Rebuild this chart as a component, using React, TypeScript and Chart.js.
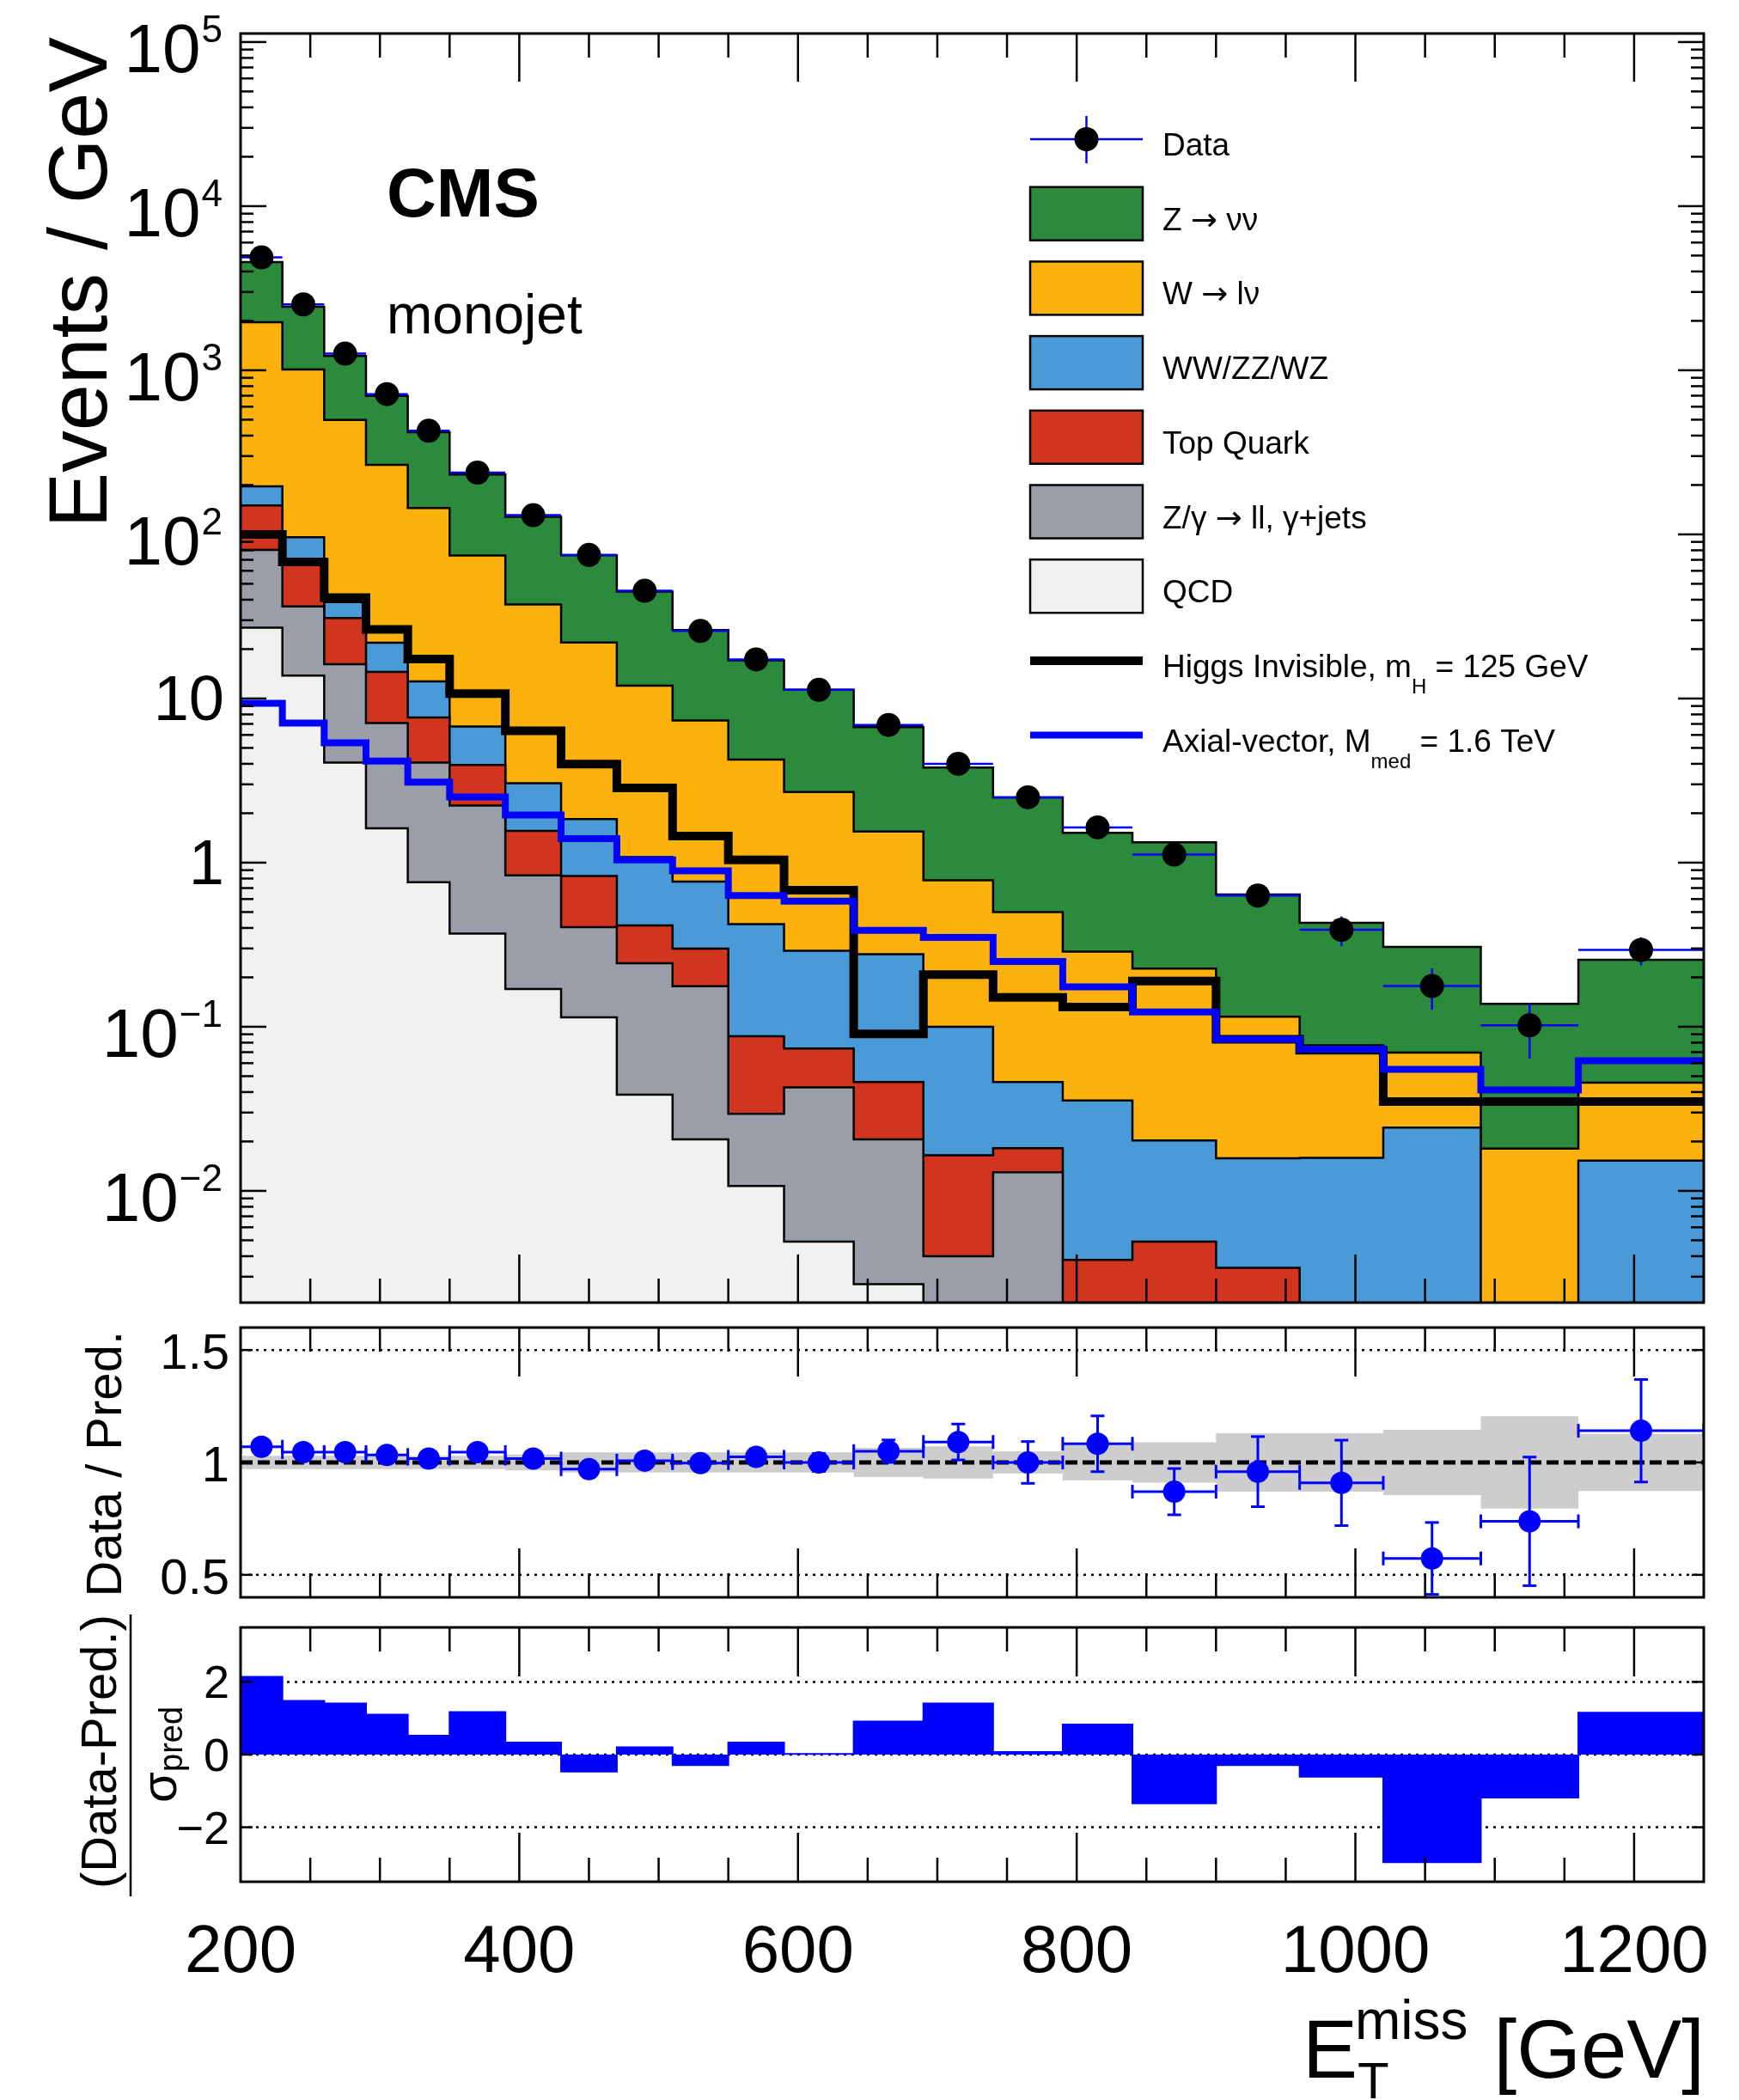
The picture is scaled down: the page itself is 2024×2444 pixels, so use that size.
import React, { useEffect, useRef } from 'react';
import { Chart, registerables } from 'chart.js';

Chart.register(...registerables);

// ---------------- data ----------------
const binEdges = [200, 230, 260, 290, 320, 350, 390, 430, 470, 510, 550, 590, 640, 690, 740, 790, 840, 900, 960, 1020, 1090, 1160, 1250];

// background components (events / GeV), stacked bottom -> top
const qcd = [27, 13.8, 4.07, 1.62, 0.76, 0.37, 0.17, 0.114, 0.0386, 0.0206, 0.0107, 0.0049, 0.0027, 0, 0, 0, 0, 0, 0, 0, 0, 0];
const zGammaJets = [53.5, 22.6, 12.1, 5.46, 3.31, 1.86, 0.666, 0.291, 0.205, 0.156, 0.0188, 0.0378, 0.0179, 0.004, 0.013, 0, 0, 0, 0, 0, 0, 0];
const topQuark = [69.5, 34.6, 14.8, 7.42, 3.59, 1.71, 0.724, 0.425, 0.171, 0.123, 0.058, 0.0309, 0.0254, 0.0125, 0.0052, 0.0038, 0.0049, 0.0034, 0, 0, 0, 0];
const diboson = [46, 25, 7.7, 7.4, 5.04, 2.82, 1.49, 1.01, 0.665, 0.467, 0.334, 0.217, 0.231, 0.0835, 0.0278, 0.0317, 0.0154, 0.0124, 0.0159, 0.0243, 0, 0.0153];
const wLNu = [1768, 915, 459, 243, 132, 67.7, 34.3, 20.1, 10.9, 6.58, 3.83, 2.4, 1.27, 0.68, 0.454, 0.2515, 0.2057, 0.0992, 0.0611, 0.0454, 0.0181, 0.0304];
const zNuNu = [2596, 1426, 725, 434, 275, 157.5, 90.7, 52.6, 32.8, 18.75, 12.85, 8.61, 5.15, 3.02, 2.0, 1.233, 1.104, 0.525, 0.353, 0.2373, 0.1199, 0.2103];

const dataValues = [4870, 2520, 1262, 716, 428, 238, 131, 75, 45.3, 25.8, 17.3, 11.3, 6.9, 4.0, 2.5, 1.64, 1.12, 0.63, 0.39, 0.177, 0.102, 0.294];
const dataErrors = [13, 9, 6.5, 4.9, 3.8, 2.4, 1.8, 1.4, 1.06, 0.8, 0.66, 0.48, 0.37, 0.28, 0.22, 0.18, 0.14, 0.1, 0.08, 0.05, 0.038, 0.057];

const higgsInvisible = [100, 68, 41.2, 26.4, 17.4, 10.7, 6.35, 3.98, 2.85, 1.45, 1.04, 0.68, 0.0905, 0.208, 0.151, 0.132, 0.19, 0.084, 0.072, 0.035, 0.035, 0.035];
const axialVector = [9.34, 7.08, 5.37, 4.16, 3.09, 2.51, 1.95, 1.4, 1.04, 0.89, 0.63, 0.583, 0.387, 0.35, 0.25, 0.175, 0.123, 0.084, 0.073, 0.055, 0.0412, 0.062];

const ratioValues = [1.07, 1.046, 1.046, 1.033, 1.017, 1.046, 1.017, 0.97, 1.008, 0.997, 1.025, 1.0, 1.05, 1.091, 1.0, 1.083, 0.87, 0.959, 0.909, 0.573, 0.738, 1.141];
const ratioErrors = [0.01, 0.01, 0.012, 0.013, 0.015, 0.016, 0.018, 0.02, 0.025, 0.03, 0.035, 0.04, 0.05, 0.08, 0.093, 0.124, 0.103, 0.156, 0.19, 0.16, 0.286, 0.228];
const predUncertainty = [0.03, 0.03, 0.03, 0.03, 0.03, 0.03, 0.035, 0.045, 0.045, 0.045, 0.045, 0.045, 0.065, 0.072, 0.05, 0.08, 0.09, 0.13, 0.13, 0.145, 0.205, 0.127];

const pullValues = [2.14, 1.48, 1.41, 1.1, 0.52, 1.17, 0.33, -0.47, 0.2, -0.29, 0.33, 0.02, 0.91, 1.41, 0.07, 0.83, -1.34, -0.29, -0.61, -2.96, -1.18, 1.15];

// tick labels
const mainYTickValues = [1e5, 1e4, 1e3, 1e2, 10, 1, 0.1, 0.01];
const mainYTickBase = ['10', '10', '10', '10', '10', '1', '10', '10'];
const mainYTickExp = ['5', '4', '3', '2', '', '', '\u22121', '\u22122'];
const xTickValues = [200, 400, 600, 800, 1000, 1200];
const xTickLabels = ['200', '400', '600', '800', '1000', '1200'];
const ratioTickValues = [0.5, 1, 1.5];
const ratioTickLabels = ['0.5', '1', '1.5'];
const pullTickValues = [-2, 0, 2];
const pullTickLabels = ['\u22122', '0', '2'];

const seriesNames = ['QCD', 'Z/\u03b3 \u2192 ll, \u03b3+jets', 'Top Quark', 'WW/ZZ/WZ', 'W \u2192 l\u03bd', 'Z \u2192 \u03bd\u03bd'];

// ---------------- style ----------------
const FONT = '"Liberation Sans", Arial, Helvetica, sans-serif';
const ARROW_FONT = '"DejaVu Sans", sans-serif';
const COLORS = {
  qcd: '#f1f1f1',
  zgamma: '#9a9ea9',
  top: '#d2351f',
  diboson: '#4a9ad8',
  wlnu: '#fcb10c',
  znunu: '#2b8a3c',
  band: '#cdcdcd',
  blue: '#0000ff',
};
const X_MINOR_STEP = 50;
const MAIN_H = 1530;
const RATIO_TOP = 1530;
const RATIO_H = 342;
const PULL_TOP = 1872;
const PULL_H = 572;

// ---------------- helpers ----------------
function histPoints(values: number[], floor = -Infinity) {
  const pts: { x: number; y: number }[] = [];
  for (let i = 0; i < values.length; i++) {
    const v = Math.max(values[i], floor);
    pts.push({ x: binEdges[i], y: v });
    pts.push({ x: binEdges[i + 1], y: v });
  }
  return pts;
}
const binCenters = binEdges.slice(0, -1).map((e, i) => (e + binEdges[i + 1]) / 2);

function seg(ctx: CanvasRenderingContext2D, x1: number, y1: number, x2: number, y2: number) {
  ctx.beginPath();
  ctx.moveTo(x1, y1);
  ctx.lineTo(x2, y2);
  ctx.stroke();
}

function rotText(ctx: CanvasRenderingContext2D, text: string, x: number, y: number, font: string, align: CanvasTextAlign) {
  ctx.save();
  ctx.translate(x, y);
  ctx.rotate(-Math.PI / 2);
  ctx.font = font;
  ctx.textAlign = align;
  ctx.textBaseline = 'alphabetic';
  ctx.fillStyle = '#000';
  ctx.fillText(text, 0, 0);
  ctx.restore();
}

function drawFrameAndXTicks(chart: any, majorLen: number, minorLen: number) {
  const ctx: CanvasRenderingContext2D = chart.ctx;
  const a = chart.chartArea;
  const xs = chart.scales.x;
  ctx.save();
  ctx.strokeStyle = '#000';
  ctx.lineWidth = 2.5;
  for (let v = xs.min + X_MINOR_STEP; v < xs.max; v += X_MINOR_STEP) {
    const px = xs.getPixelForValue(v);
    const len = xTickValues.includes(v) ? majorLen : minorLen;
    seg(ctx, px, a.top, px, a.top + len);
    seg(ctx, px, a.bottom, px, a.bottom - len);
  }
  ctx.lineWidth = 3;
  ctx.strokeRect(a.left, a.top, a.right - a.left, a.bottom - a.top);
  ctx.restore();
}

function drawHLineAt(chart: any, value: number, dash: number[], width: number) {
  const ctx: CanvasRenderingContext2D = chart.ctx;
  const a = chart.chartArea;
  const py = chart.scales.y.getPixelForValue(value);
  ctx.save();
  ctx.strokeStyle = '#000';
  ctx.lineWidth = width;
  ctx.setLineDash(dash);
  seg(ctx, a.left, py, a.right, py);
  ctx.restore();
}

function drawYTicksLinear(chart: any, values: number[], labels: string[], fontSize: number, baseOff: number) {
  const ctx: CanvasRenderingContext2D = chart.ctx;
  const a = chart.chartArea;
  const ys = chart.scales.y;
  ctx.save();
  ctx.strokeStyle = '#000';
  ctx.lineWidth = 2.5;
  ctx.fillStyle = '#000';
  ctx.font = `${fontSize}px ${FONT}`;
  ctx.textAlign = 'right';
  ctx.textBaseline = 'alphabetic';
  values.forEach((v, i) => {
    const py = ys.getPixelForValue(v);
    seg(ctx, a.left, py, a.left + 14, py);
    seg(ctx, a.right, py, a.right - 14, py);
    ctx.fillText(labels[i], 267, py + baseOff);
  });
  ctx.restore();
}

type Part = { t: string; sub?: boolean };
// draws text pieces left to right; subscripts smaller and lower, arrows with a font that has a full-size arrow
function drawRich(ctx: CanvasRenderingContext2D, parts: Part[], x: number, y: number, size: number) {
  let cx = x;
  for (const p of parts) {
    const fs = p.sub ? 24 : size;
    const yy = p.sub ? y + 19 : y;
    const pieces = p.t.split('\u2192');
    pieces.forEach((piece, k) => {
      if (k > 0) {
        ctx.font = `${fs}px ${ARROW_FONT}`;
        ctx.fillText('\u2192', cx, yy);
        cx += ctx.measureText('\u2192').width;
      }
      ctx.font = `${fs}px ${FONT}`;
      ctx.fillText(piece, cx, yy);
      cx += ctx.measureText(piece).width;
    });
  }
}

const legendEntries: { kind: string; color?: string; width?: number; parts: Part[] }[] = [
  { kind: 'data', parts: [{ t: 'Data' }] },
  { kind: 'box', color: COLORS.znunu, parts: [{ t: seriesNames[5] }] },
  { kind: 'box', color: COLORS.wlnu, parts: [{ t: seriesNames[4] }] },
  { kind: 'box', color: COLORS.diboson, parts: [{ t: seriesNames[3] }] },
  { kind: 'box', color: COLORS.top, parts: [{ t: seriesNames[2] }] },
  { kind: 'box', color: COLORS.zgamma, parts: [{ t: seriesNames[1] }] },
  { kind: 'box', color: COLORS.qcd, parts: [{ t: seriesNames[0] }] },
  { kind: 'line', color: '#000', width: 10, parts: [{ t: 'Higgs Invisible, m' }, { t: 'H', sub: true }, { t: ' = 125 GeV' }] },
  { kind: 'line', color: COLORS.blue, width: 8, parts: [{ t: 'Axial-vector, M' }, { t: 'med', sub: true }, { t: ' = 1.6 TeV' }] },
];

// ---------------- main panel ----------------
const DATA_INDEX = 8;

const mainPlugin = {
  id: 'mainDecor',
  beforeDatasetDraw(chart: any, args: any) {
    if (args.index !== DATA_INDEX) return;
    const ctx: CanvasRenderingContext2D = chart.ctx;
    const a = chart.chartArea;
    const xs = chart.scales.x;
    const ys = chart.scales.y;
    ctx.save();
    ctx.beginPath();
    ctx.rect(a.left, a.top, a.right - a.left, a.bottom - a.top);
    ctx.clip();
    ctx.strokeStyle = COLORS.blue;
    ctx.lineWidth = 2.5;
    dataValues.forEach((v, i) => {
      const py = ys.getPixelForValue(v);
      seg(ctx, xs.getPixelForValue(binEdges[i]), py, xs.getPixelForValue(binEdges[i + 1]), py);
      const px = xs.getPixelForValue(binCenters[i]);
      seg(ctx, px, ys.getPixelForValue(v + dataErrors[i]), px, ys.getPixelForValue(Math.max(v - dataErrors[i], 1e-6)));
    });
    ctx.restore();
  },
  afterDraw(chart: any) {
    const ctx: CanvasRenderingContext2D = chart.ctx;
    const a = chart.chartArea;
    const ys = chart.scales.y;
    drawFrameAndXTicks(chart, 56, 28);

    // log y ticks
    ctx.save();
    ctx.strokeStyle = '#000';
    ctx.lineWidth = 2.5;
    for (let k = -3; k <= 5; k++) {
      for (let m = 1; m <= 9; m++) {
        const v = m * Math.pow(10, k);
        if (v < ys.min || v > ys.max) continue;
        const py = ys.getPixelForValue(v);
        const len = m === 1 ? 30 : 15;
        seg(ctx, a.left, py, a.left + len, py);
        seg(ctx, a.right, py, a.right - len, py);
      }
    }
    // y labels
    ctx.fillStyle = '#000';
    ctx.textAlign = 'right';
    ctx.textBaseline = 'alphabetic';
    mainYTickValues.forEach((v, i) => {
      const py = ys.getPixelForValue(v);
      const exp = mainYTickExp[i];
      if (exp) {
        ctx.font = `44px ${FONT}`;
        ctx.fillText(exp, 259, py);
        const w = ctx.measureText(exp).width;
        ctx.font = `80px ${FONT}`;
        ctx.fillText(mainYTickBase[i], 259 - w - 1, py + 35);
      } else {
        ctx.font = `74px ${FONT}`;
        ctx.fillText(mainYTickBase[i], 261, py + 25);
      }
    });

    // axis title
    rotText(ctx, 'Events / GeV', 124, 43, `97px ${FONT}`, 'right');

    // CMS labels
    ctx.textAlign = 'left';
    ctx.fillStyle = '#000';
    ctx.font = `bold 80px ${FONT}`;
    ctx.fillText('CMS', 450, 252);
    ctx.font = `64px ${FONT}`;
    ctx.fillText('monojet', 450, 388);

    // legend
    const x0 = 1199;
    const x1 = 1330;
    const textX = 1353;
    legendEntries.forEach((e, i) => {
      const cy = 162 + i * 86.7;
      if (e.kind === 'data') {
        ctx.strokeStyle = COLORS.blue;
        ctx.lineWidth = 2.5;
        seg(ctx, x0, cy, x1, cy);
        seg(ctx, (x0 + x1) / 2, cy - 27, (x0 + x1) / 2, cy + 28);
        ctx.fillStyle = '#000';
        ctx.beginPath();
        ctx.arc((x0 + x1) / 2, cy, 14, 0, Math.PI * 2);
        ctx.fill();
      } else if (e.kind === 'box') {
        ctx.fillStyle = e.color!;
        ctx.fillRect(x0, cy - 31, x1 - x0, 62);
        ctx.strokeStyle = '#000';
        ctx.lineWidth = 2.5;
        ctx.strokeRect(x0, cy - 31, x1 - x0, 62);
      } else {
        ctx.strokeStyle = e.color!;
        ctx.lineWidth = e.width!;
        seg(ctx, x0, cy, x1, cy);
      }
      ctx.fillStyle = '#000';
      ctx.textAlign = 'left';
      drawRich(ctx, e.parts, textX, cy + 19, 37);
    });
    ctx.restore();
  },
};

function mainConfig(): any {
  const stackDefs = [
    { vals: qcd, color: COLORS.qcd },
    { vals: zGammaJets, color: COLORS.zgamma },
    { vals: topQuark, color: COLORS.top },
    { vals: diboson, color: COLORS.diboson },
    { vals: wLNu, color: COLORS.wlnu },
    { vals: zNuNu, color: COLORS.znunu },
  ];
  let running = new Array(qcd.length).fill(0);
  const stackSets = stackDefs.map((s, i) => {
    running = running.map((r, j) => r + s.vals[j]);
    return {
      label: seriesNames[i],
      data: histPoints(running, 1e-4),
      backgroundColor: s.color,
      borderColor: '#000',
      borderWidth: 2.5,
      borderJoinStyle: 'miter',
      fill: i === 0 ? 'start' : '-1',
      pointRadius: 0,
      tension: 0,
      order: 3,
    };
  });
  return {
    type: 'line',
    data: {
      datasets: [
        ...stackSets,
        {
          label: 'Higgs Invisible',
          data: histPoints(higgsInvisible),
          borderColor: '#000',
          borderWidth: 10,
          borderJoinStyle: 'miter',
          fill: false,
          pointRadius: 0,
          tension: 0,
          order: 2,
        },
        {
          label: 'Axial-vector',
          data: histPoints(axialVector),
          borderColor: COLORS.blue,
          borderWidth: 8,
          borderJoinStyle: 'miter',
          fill: false,
          pointRadius: 0,
          tension: 0,
          order: 1,
        },
        {
          label: 'Data',
          data: dataValues.map((v, i) => ({ x: binCenters[i], y: v })),
          showLine: false,
          pointRadius: 14,
          pointBackgroundColor: '#000',
          pointBorderColor: '#000',
          pointBorderWidth: 0,
          order: 0,
        },
      ],
    },
    options: {
      animation: false,
      responsive: false,
      devicePixelRatio: 1,
      events: [],
      layout: { padding: { left: 280, right: 41, top: 39, bottom: 14 } },
      plugins: { legend: { display: false }, tooltip: { enabled: false } },
      scales: {
        x: { type: 'linear', min: 200, max: 1250, display: false },
        y: { type: 'logarithmic', min: 0.002085, max: 1.127e5, display: false },
      },
    },
    plugins: [mainPlugin],
  };
}

// ---------------- ratio panel ----------------
const ratioPlugin = {
  id: 'ratioDecor',
  beforeDatasetsDraw(chart: any) {
    drawHLineAt(chart, 1.5, [3, 6], 2.5);
    drawHLineAt(chart, 0.5, [3, 6], 2.5);
  },
  beforeDatasetDraw(chart: any, args: any) {
    if (args.index !== 2) return;
    drawHLineAt(chart, 1, [14, 6], 5);
    const ctx: CanvasRenderingContext2D = chart.ctx;
    const a = chart.chartArea;
    const xs = chart.scales.x;
    const ys = chart.scales.y;
    ctx.save();
    ctx.beginPath();
    ctx.rect(a.left, a.top, a.right - a.left, a.bottom - a.top);
    ctx.clip();
    ctx.strokeStyle = COLORS.blue;
    ctx.lineWidth = 3;
    ratioValues.forEach((v, i) => {
      const py = ys.getPixelForValue(v);
      const xl = xs.getPixelForValue(binEdges[i]);
      const xr = xs.getPixelForValue(binEdges[i + 1]);
      const px = xs.getPixelForValue(binCenters[i]);
      seg(ctx, xl, py, xr, py);
      seg(ctx, xl, py - 8, xl, py + 8);
      seg(ctx, xr, py - 8, xr, py + 8);
      const yt = ys.getPixelForValue(v + ratioErrors[i]);
      const yb = ys.getPixelForValue(v - ratioErrors[i]);
      seg(ctx, px, yt, px, yb);
      seg(ctx, px - 8, yt, px + 8, yt);
      seg(ctx, px - 8, yb, px + 8, yb);
    });
    ctx.restore();
  },
  afterDraw(chart: any) {
    const ctx: CanvasRenderingContext2D = chart.ctx;
    drawFrameAndXTicks(chart, 57, 28);
    drawYTicksLinear(chart, ratioTickValues, ratioTickLabels, 58, 22);
    rotText(ctx, 'Data / Pred.', 141, 1549 - RATIO_TOP, `58px ${FONT}`, 'right');
  },
};

function ratioConfig(): any {
  return {
    type: 'line',
    data: {
      datasets: [
        {
          label: 'band low',
          data: histPoints(predUncertainty.map((e) => 1 - e)),
          borderColor: 'rgba(0,0,0,0)',
          borderWidth: 1,
          fill: false,
          pointRadius: 0,
          tension: 0,
          order: 2,
        },
        {
          label: 'band high',
          data: histPoints(predUncertainty.map((e) => 1 + e)),
          borderColor: 'rgba(0,0,0,0)',
          backgroundColor: COLORS.band,
          borderWidth: 1,
          fill: '-1',
          pointRadius: 0,
          tension: 0,
          order: 2,
        },
        {
          label: 'Data / Pred.',
          data: ratioValues.map((v, i) => ({ x: binCenters[i], y: v })),
          showLine: false,
          pointRadius: 13,
          pointBackgroundColor: COLORS.blue,
          pointBorderColor: COLORS.blue,
          pointBorderWidth: 0,
          order: 0,
        },
      ],
    },
    options: {
      animation: false,
      responsive: false,
      devicePixelRatio: 1,
      events: [],
      layout: { padding: { left: 280, right: 41, top: 15, bottom: 2 } },
      plugins: { legend: { display: false }, tooltip: { enabled: false } },
      scales: {
        x: { type: 'linear', min: 200, max: 1250, display: false },
        y: { type: 'linear', min: 0.4, max: 1.6, display: false },
      },
    },
    plugins: [ratioPlugin],
  };
}

// ---------------- pull panel ----------------
const pullPlugin = {
  id: 'pullDecor',
  beforeDatasetsDraw(chart: any) {
    pullTickValues.forEach((v) => drawHLineAt(chart, v, [3, 6], 2.5));
  },
  afterDraw(chart: any) {
    const ctx: CanvasRenderingContext2D = chart.ctx;
    const xs = chart.scales.x;
    drawFrameAndXTicks(chart, 57, 28);
    drawYTicksLinear(chart, pullTickValues, pullTickLabels, 54, 19);
    ctx.save();
    ctx.fillStyle = '#000';
    // x tick labels
    ctx.font = `78px ${FONT}`;
    ctx.textAlign = 'center';
    ctx.textBaseline = 'alphabetic';
    xTickValues.forEach((v, i) => {
      ctx.fillText(xTickLabels[i], xs.getPixelForValue(v), 2295 - PULL_TOP);
    });
    // x title
    ctx.textAlign = 'left';
    ctx.font = `96px ${FONT}`;
    ctx.fillText('E', 1516, 2418 - PULL_TOP);
    ctx.font = `60px ${FONT}`;
    ctx.fillText('T', 1580, 2442 - PULL_TOP);
    ctx.font = `64px ${FONT}`;
    ctx.fillText('miss', 1577, 2373 - PULL_TOP);
    ctx.font = `96px ${FONT}`;
    ctx.textAlign = 'right';
    ctx.fillText('[GeV]', 1984, 2418 - PULL_TOP);
    // y title (fraction)
    rotText(ctx, '(Data-Pred.)', 135, 1879 - PULL_TOP, `58px ${FONT}`, 'right');
    ctx.strokeStyle = '#000';
    ctx.lineWidth = 2.5;
    seg(ctx, 152, 1879 - PULL_TOP, 152, 2207 - PULL_TOP);
    rotText(ctx, '\u03c3', 205, 2098 - PULL_TOP, `58px ${FONT}`, 'left');
    rotText(ctx, 'pred', 212, 2062 - PULL_TOP, `38px ${FONT}`, 'left');
    ctx.restore();
  },
};

function pullConfig(): any {
  return {
    type: 'line',
    data: {
      datasets: [
        {
          label: '(Data-Pred.)/sigma',
          data: histPoints(pullValues),
          borderColor: COLORS.blue,
          backgroundColor: COLORS.blue,
          borderWidth: 2,
          borderJoinStyle: 'miter',
          fill: 'origin',
          pointRadius: 0,
          tension: 0,
        },
      ],
    },
    options: {
      animation: false,
      responsive: false,
      devicePixelRatio: 1,
      events: [],
      layout: { padding: { left: 280, right: 41, top: 22, bottom: 254 } },
      plugins: { legend: { display: false }, tooltip: { enabled: false } },
      scales: {
        x: { type: 'linear', min: 200, max: 1250, display: false },
        y: { type: 'linear', min: -3.5, max: 3.5, display: false },
      },
    },
    plugins: [pullPlugin],
  };
}

// ---------------- component ----------------
export default function App() {
  const mainRef = useRef<HTMLCanvasElement>(null);
  const ratioRef = useRef<HTMLCanvasElement>(null);
  const pullRef = useRef<HTMLCanvasElement>(null);

  useEffect(() => {
    const charts: Chart[] = [];
    if (mainRef.current) charts.push(new Chart(mainRef.current, mainConfig()));
    if (ratioRef.current) charts.push(new Chart(ratioRef.current, ratioConfig()));
    if (pullRef.current) charts.push(new Chart(pullRef.current, pullConfig()));
    return () => charts.forEach((c) => c.destroy());
  }, []);

  return (
    <div style={{ position: 'absolute', left: 0, top: 0, width: 2024, height: 2444, background: '#fff', overflow: 'hidden' }}>
      <canvas ref={mainRef} width={2024} height={MAIN_H} style={{ position: 'absolute', left: 0, top: 0, width: 2024, height: MAIN_H }} />
      <canvas ref={ratioRef} width={2024} height={RATIO_H} style={{ position: 'absolute', left: 0, top: RATIO_TOP, width: 2024, height: RATIO_H }} />
      <canvas ref={pullRef} width={2024} height={PULL_H} style={{ position: 'absolute', left: 0, top: PULL_TOP, width: 2024, height: PULL_H }} />
    </div>
  );
}
